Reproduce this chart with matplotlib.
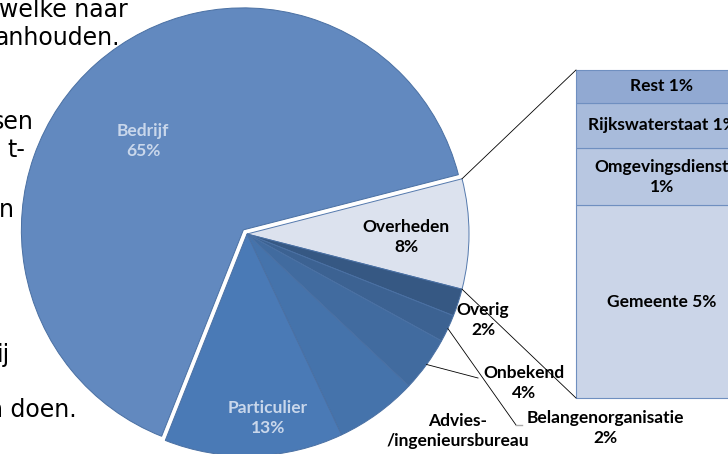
import numpy as np
import matplotlib.pyplot as plt

# --- data (percentages) ---
pie_labels = ['Overheden', 'Overig', 'Belangenorganisatie', 'Onbekend',
              'Advies-\n/ingenieursbureau', 'Particulier', 'Bedrijf']
pie_values = [8, 2, 2, 4, 6, 13, 65]

bar_labels = ['Gemeente', 'Omgevingsdienst', 'Rijkswaterstaat', 'Rest']
bar_values = [4.7, 1.4, 1.1, 0.8]
bar_sep = [' ', '\n', ' ', ' ']

# slide text behind the chart (only the right-hand ends are visible)
bg_lines = ['welke naar', 'anhouden.', 'sen', 't-', 'n', 'ij', 'n doen.']

# --- style / layout ---
W, H = 728, 454
pie_colors = ['#dce2ee', '#365883', '#3c6292', '#416b9f', '#4573ab', '#4a7ab6', '#6289bf']
bar_colors = ['#cbd5e8', '#b8c7e1', '#a8bbdb', '#91a9d2']
light = '#c9d7eb'
center = (247, H - 234)
radius = 222

bg_pos = [(128, 10), (120, 38), (34, 122), (25, 150), (14, 210), (10, 355), (77, 410)]
label_pos = [(406, 237), (483, 320), (605, 428), (524, 383), (458, 413), (268, 418), (143, 141)]
label_col = ['black', 'black', 'black', 'black', 'black', light, light]

bar_x0, bar_w = 576, 170
bar_bottom, bar_top = H - 398, H - 70

plt.rcParams['font.family'] = ['Lato', 'DejaVu Sans']

fig = plt.figure(figsize=(W / 100, H / 100), dpi=100)
ax = fig.add_axes([0, 0, 1, 1])

for txt, (x, y) in zip(bg_lines, bg_pos):
    ax.text(x, H - y, txt, ha='right', va='center', fontsize=17,
            family='DejaVu Sans', color='black', zorder=0)

# explode is in data units (pixels here), not scaled by the radius
explode = [0, 0, 0, 0, 0, 0, 5.5]
wedges, _ = ax.pie(pie_values, colors=pie_colors, startangle=14.4, counterclock=False,
                   center=center, radius=radius, explode=explode,
                   wedgeprops=dict(edgecolor='#4a70a3', linewidth=0.7))
for w in wedges:
    w.set_zorder(2)
wedges[0].set_edgecolor('#5479ad')

# labels of the pie
for lab, v, (x, y), c in zip(pie_labels, pie_values, label_pos, label_col):
    va = 'top' if lab.startswith('Advies') else 'center'
    ax.text(x, H - y, f'{lab}\n{v:.0f}%', ha='center', va=va, fontsize=12.5,
            fontweight='bold', color=c, linespacing=1.3, zorder=5)

# leader lines for the small slices
def rim(w, r=1.0):
    a = np.deg2rad((w.theta1 + w.theta2) / 2)
    return center[0] + radius * r * np.cos(a), center[1] + radius * r * np.sin(a)

for idx, end in [(2, (516, 425)), (3, (478, 378))]:
    sx, sy = rim(wedges[idx])
    ax.plot([sx, end[0]], [sy, H - end[1]], color='black', lw=0.6, zorder=4)
ax.plot([516, 522], [H - 425, H - 425], color='#aaaaaa', lw=1, zorder=4)

# stacked bar with the split of Overheden
scale = (bar_top - bar_bottom) / sum(bar_values)
bottom = bar_bottom
for lab, v, sep, c in zip(bar_labels, bar_values, bar_sep, bar_colors):
    h = v * scale
    ax.bar(bar_x0, h, width=bar_w, bottom=bottom, align='edge', color=c,
           edgecolor='#6f8fc0', linewidth=0.8, zorder=2)
    ax.text(bar_x0 + 86, bottom + h / 2, f'{lab}{sep}{v:.0f}%', ha='center', va='center',
            fontsize=12.5, fontweight='bold', color='black', linespacing=1.3, zorder=5)
    bottom += h

# connector lines from Overheden to the bar
w0 = wedges[0]
t_hi, t_lo = max(w0.theta1, w0.theta2), min(w0.theta1, w0.theta2)
for ang, by in [(t_hi, bar_top), (t_lo, bar_bottom)]:
    a = np.deg2rad(ang)
    ax.plot([center[0] + radius * np.cos(a), bar_x0], [center[1] + radius * np.sin(a), by],
            color='black', lw=0.6, zorder=3)

ax.set_xlim(0, W)
ax.set_ylim(0, H)
ax.set_aspect('equal')
ax.axis('off')

fig.savefig('out.png', dpi=100)
